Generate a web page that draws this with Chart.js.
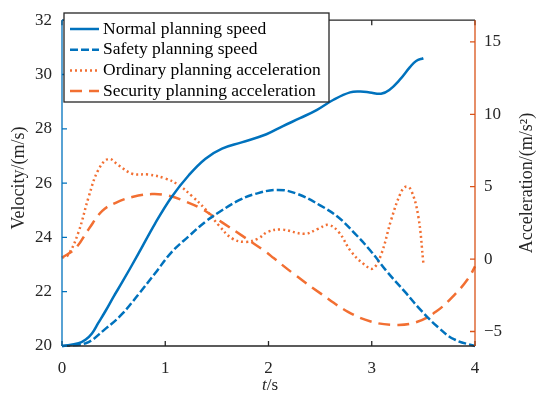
<!DOCTYPE html>
<html>
<head>
<meta charset="utf-8">
<script src="https://cdn.jsdelivr.net/npm/chart.js@4.4.0/dist/chart.umd.min.js"></script>
<style>
  html, body { margin: 0; padding: 0; background: #fff; }
</style>
</head>
<body>
<canvas id="myChart" width="538" height="402"></canvas>
<script>
// values
var timeNormal = [0, 0.16, 0.23, 0.29, 0.35, 0.42, 0.5, 0.58, 0.74, 0.9, 1.06, 1.23, 1.39, 1.55, 1.74, 1.98, 2.14, 2.31, 2.47, 2.63, 2.79, 2.89, 2.98, 3.09, 3.17, 3.27, 3.37, 3.43, 3.5];
var speedNormal = [20, 20.1, 20.24, 20.46, 20.84, 21.28, 21.82, 22.33, 23.4, 24.5, 25.48, 26.3, 26.9, 27.27, 27.5, 27.8, 28.1, 28.4, 28.7, 29.07, 29.34, 29.37, 29.34, 29.29, 29.43, 29.8, 30.27, 30.5, 30.6];

var timeSafety = [0, 0.23, 0.42, 0.58, 0.74, 0.9, 1.06, 1.23, 1.39, 1.55, 1.71, 1.87, 2.09, 2.28, 2.5, 2.67, 2.83, 2.99, 3.15, 3.32, 3.48, 3.64, 3.8, 4];
var speedSafety = [20, 20.1, 20.63, 21.17, 21.9, 22.67, 23.45, 24.05, 24.58, 25.0, 25.36, 25.6, 25.75, 25.6, 25.18, 24.76, 24.17, 23.5, 22.73, 22.0, 21.3, 20.7, 20.24, 20];

var timeOrdinary = [0, 0.06, 0.16, 0.26, 0.35, 0.45, 0.55, 0.68, 0.84, 1.0, 1.13, 1.26, 1.39, 1.52, 1.65, 1.78, 1.9, 1.99, 2.12, 2.35, 2.48, 2.58, 2.68, 2.8, 2.93, 3.01, 3.09, 3.19, 3.28, 3.33, 3.38, 3.45, 3.5];
var accOrdinary = [0.1, 0.3, 1.87, 4.34, 6.13, 6.92, 6.47, 5.9, 5.84, 5.57, 5.12, 4.34, 3.44, 2.32, 1.42, 1.19, 1.42, 1.87, 2.05, 1.75, 2.09, 2.36, 1.87, 0.52, -0.38, -0.65, 0.3, 2.76, 4.56, 5.0, 4.78, 2.99, -0.27];

var timeSecurity = [0, 0.13, 0.26, 0.39, 0.52, 0.68, 0.87, 1.03, 1.19, 1.36, 1.55, 1.74, 1.97, 2.05, 2.25, 2.51, 2.77, 2.99, 3.22, 3.42, 3.62, 3.81, 3.94, 4];
var accSecurity = [0.1, 0.74, 2.09, 3.33, 3.89, 4.29, 4.49, 4.38, 4.0, 3.44, 2.54, 1.64, 0.52, 0.07, -1.05, -2.4, -3.64, -4.31, -4.54, -4.38, -3.64, -2.4, -1.28, -0.5];

var timeTicks = [0, 1, 2, 3, 4];
var speedTicks = [20, 22, 24, 26, 28, 30, 32];
var accTicks = [-5, 0, 5, 10, 15];

var seriesLabels = ['Normal planning speed', 'Safety planning speed', 'Ordinary planning acceleration', 'Security planning acceleration'];

var blue = '#0072BD';
var orange = '#F26F32';
var orangeAxis = '#D95319';
var dark = '#262626';
var serif = '"Liberation Serif", "Times New Roman", serif';

function pairs(xs, ys) {
    return xs.map(function (x, i) { return { x: x, y: ys[i] }; });
}

function minusLabel(v) {
    return v < 0 ? '\u2212' + Math.abs(v) : String(v);
}

// box, inward ticks, axis titles and the legend box
var frame = {
    id: 'frame',
    afterDraw: function (chart) {
        var ctx = chart.ctx, a = chart.chartArea, s = chart.scales;
        ctx.save();
        ctx.setLineDash([]);
        ctx.lineWidth = 1.3;

        ctx.strokeStyle = dark;
        ctx.beginPath();
        ctx.moveTo(a.left, a.bottom); ctx.lineTo(a.right, a.bottom);
        ctx.moveTo(a.left, a.top); ctx.lineTo(a.right, a.top);
        s.x.ticks.forEach(function (t) {
            var px = s.x.getPixelForValue(t.value);
            ctx.moveTo(px, a.bottom); ctx.lineTo(px, a.bottom - 5);
            ctx.moveTo(px, a.top); ctx.lineTo(px, a.top + 5);
        });
        ctx.stroke();

        ctx.strokeStyle = blue;
        ctx.beginPath();
        ctx.moveTo(a.left, a.top); ctx.lineTo(a.left, a.bottom);
        s.y.ticks.forEach(function (t) {
            var py = s.y.getPixelForValue(t.value);
            ctx.moveTo(a.left, py); ctx.lineTo(a.left + 5, py);
        });
        ctx.stroke();

        ctx.strokeStyle = orangeAxis;
        ctx.beginPath();
        ctx.moveTo(a.right, a.top); ctx.lineTo(a.right, a.bottom);
        s.y1.ticks.forEach(function (t) {
            var py = s.y1.getPixelForValue(t.value);
            ctx.moveTo(a.right, py); ctx.lineTo(a.right - 5, py);
        });
        ctx.stroke();

        // axis titles
        ctx.fillStyle = dark;
        ctx.textBaseline = 'middle';
        ctx.textAlign = 'center';
        ctx.font = '18px ' + serif;
        ctx.save();
        ctx.translate(19, 178);
        ctx.rotate(-Math.PI / 2);
        ctx.fillText('Velocity/(m/s)', 0, 0);
        ctx.restore();
        ctx.save();
        ctx.translate(527, 183);
        ctx.rotate(-Math.PI / 2);
        ctx.fillText('Acceleration/(m/s\u00B2)', 0, 0);
        ctx.restore();

        ctx.textAlign = 'left';
        ctx.font = 'italic 17px ' + serif;
        var wt = ctx.measureText('t').width;
        ctx.font = '17px ' + serif;
        var ws = ctx.measureText('/s').width;
        var tx = 270 - (wt + ws) / 2;
        ctx.font = 'italic 17px ' + serif;
        ctx.fillText('t', tx, 386);
        ctx.font = '17px ' + serif;
        ctx.fillText('/s', tx + wt, 386);

        // legend
        var lx = 64, ly = 13, lw = 265, lh = 89;
        ctx.fillStyle = '#fff';
        ctx.fillRect(lx, ly, lw, lh);
        ctx.strokeStyle = dark;
        ctx.lineWidth = 1.3;
        ctx.strokeRect(lx, ly, lw, lh);
        ctx.font = '17.5px ' + serif;
        ctx.fillStyle = '#000';
        chart.data.datasets.forEach(function (ds, i) {
            var cy = 29 + i * 20.7;
            ctx.save();
            ctx.strokeStyle = ds.borderColor;
            ctx.lineWidth = ds.borderWidth;
            ctx.setLineDash(ds.borderDash || []);
            ctx.beginPath();
            ctx.moveTo(70, cy); ctx.lineTo(99, cy);
            ctx.stroke();
            ctx.restore();
            ctx.fillText(ds.label, 103, cy);
        });
        ctx.restore();
    }
};

var tickFont = { family: serif, size: 17 };
var noGrid = { display: false, drawTicks: false };

var ctx = document.getElementById('myChart');
var chart = new Chart(ctx, {
    type: 'line',
    data: {
        datasets: [{
            label: seriesLabels[0],
            data: pairs(timeNormal, speedNormal),
            yAxisID: 'y',
            borderColor: blue,
            borderWidth: 2.5
        }, {
            label: seriesLabels[1],
            data: pairs(timeSafety, speedSafety),
            yAxisID: 'y',
            borderColor: blue,
            borderWidth: 2.5,
            borderDash: [8, 3]
        }, {
            label: seriesLabels[2],
            data: pairs(timeOrdinary, accOrdinary),
            yAxisID: 'y1',
            borderColor: orange,
            borderWidth: 2.5,
            borderDash: [2, 3]
        }, {
            label: seriesLabels[3],
            data: pairs(timeSecurity, accSecurity),
            yAxisID: 'y1',
            borderColor: orange,
            borderWidth: 2.5,
            borderDash: [12, 7]
        }]
    },
    options: {
        responsive: false,
        animation: false,
        devicePixelRatio: 1,
        layout: { padding: { top: 12, left: 0, right: 0, bottom: 0 } },
        elements: {
            point: { radius: 0 },
            line: { tension: 0.4, fill: false }
        },
        datasets: { line: { clip: 3 } },
        plugins: {
            legend: { display: false },
            tooltip: { enabled: false }
        },
        scales: {
            x: {
                type: 'linear',
                min: 0,
                max: 4,
                grid: noGrid,
                border: { display: false },
                afterBuildTicks: function (scale) {
                    scale.ticks = timeTicks.map(function (v) { return { value: v }; });
                },
                afterFit: function (scale) { scale.height = 56; },
                ticks: { color: dark, font: tickFont, padding: 12, maxRotation: 0 }
            },
            y: {
                position: 'left',
                min: 20,
                max: 32,
                grid: noGrid,
                border: { display: false },
                afterBuildTicks: function (scale) {
                    scale.ticks = speedTicks.map(function (v) { return { value: v }; });
                },
                afterFit: function (scale) { scale.width = 62; },
                ticks: { color: dark, font: tickFont, padding: 10 }
            },
            y1: {
                position: 'right',
                min: -6,
                max: 16.5,
                grid: noGrid,
                border: { display: false },
                afterBuildTicks: function (scale) {
                    scale.ticks = accTicks.map(function (v) { return { value: v }; });
                },
                afterFit: function (scale) { scale.width = 63; },
                ticks: { color: dark, font: tickFont, padding: 9, callback: minusLabel }
            }
        }
    },
    plugins: [frame]
});
</script>
</body>
</html>
